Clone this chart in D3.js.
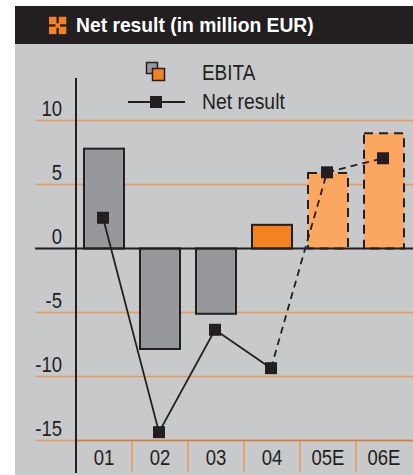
<!DOCTYPE html>
<html>
<head>
<meta charset="utf-8">
<script src="https://cdn.jsdelivr.net/npm/d3@7"></script>
<style>
  html, body { margin: 0; padding: 0; background: #fff; }
  svg { display: block; }
  text { font-family: "Liberation Sans", sans-serif; fill: #231f20; }
</style>
</head>
<body>
<div id="chart-div"></div>
<script>
const categories = ["01", "02", "03", "04", "05E", "06E"];
const ebita = [7.8, -7.85, -5.1, 1.85, 5.9, 9.0];
const netResult = [2.4, -14.35, -6.35, -9.35, 5.95, 7.05];
const barKinds = ["past", "past", "past", "now", "forecast", "forecast"];
const yTicks = [10, 5, 0, -5, -10, -15];

const width = 413;
const height = 475;

const dark = "#231f20";
const panel = "#c8c9cb";
const gridColor = "#ea9a52";
const fills = { past: "#97989b", now: "#f58220", forecast: "#fba75f" };

const yScale = d3.scaleLinear().domain([10, -15]).range([120.5, 440.5]);
const xScale = d3.scaleBand().domain(categories).range([76, 412]);
const barWidth = 40;
const cx = (d) => xScale(d) + xScale.bandwidth() / 2;

// the original type is a condensed face, squeeze the glyphs to get close
function condense(sel, k) {
  sel.each(function () {
    d3.select(this)
      .attr("textLength", this.getComputedTextLength() * k)
      .attr("lengthAdjust", "spacingAndGlyphs");
  });
}

const svg = d3.select("#chart-div")
  .append("svg")
  .attr("width", width)
  .attr("height", height);

// panel and title bar
svg.append("rect").attr("x", 15).attr("y", 44).attr("width", width - 15).attr("height", height - 44).attr("fill", panel);
svg.append("rect").attr("x", 15).attr("y", 6).attr("width", width - 15).attr("height", 38).attr("fill", dark);

// little orange title icon, four squares
const icon = svg.append("g").attr("transform", "translate(49,16.8)");
[[0, 0], [9.8, 0], [0, 9.8], [9.8, 9.8]].forEach((p) => {
  icon.append("rect").attr("x", p[0]).attr("y", p[1]).attr("width", 7.5).attr("height", 7.5).attr("fill", "#f58220");
});
icon.append("rect").attr("x", 6.5).attr("y", 6.5).attr("width", 4.5).attr("height", 4.5).attr("fill", "#f58220");

svg.append("text")
  .attr("x", 76)
  .attr("y", 32)
  .attr("font-size", 20.5)
  .attr("font-weight", "bold")
  .style("fill", "#fff")
  .text("Net result (in million EUR)")
  .call(condense, 0.94);

// horizontal grid
svg.append("g")
  .selectAll("line")
  .data(yTicks.filter((d) => d !== 0))
  .enter()
  .append("line")
  .attr("x1", 36)
  .attr("x2", width)
  .attr("y1", (d) => yScale(d))
  .attr("y2", (d) => yScale(d))
  .attr("stroke", gridColor)
  .attr("stroke-width", 1.5);

// separators under the category axis
svg.append("g")
  .selectAll("line")
  .data(categories.slice(1))
  .enter()
  .append("line")
  .attr("x1", (d) => xScale(d))
  .attr("x2", (d) => xScale(d))
  .attr("y1", yScale(-15))
  .attr("y2", 472)
  .attr("stroke", gridColor)
  .attr("stroke-width", 1.5);

// EBITA bars
svg.append("g")
  .selectAll("rect")
  .data(categories)
  .enter()
  .append("rect")
  .attr("x", (d) => cx(d) - barWidth / 2)
  .attr("y", (d, i) => yScale(Math.max(ebita[i], 0)))
  .attr("width", barWidth)
  .attr("height", (d, i) => Math.abs(yScale(ebita[i]) - yScale(0)))
  .attr("fill", (d, i) => fills[barKinds[i]])
  .attr("stroke", dark)
  .attr("stroke-width", 2)
  .attr("stroke-dasharray", (d, i) => barKinds[i] === "forecast" ? "9,6" : null);

// axes
const yAxis = d3.axisLeft(yScale).tickValues(yTicks).tickSize(0).tickPadding(0).tickFormat((d) => String(d));
const yG = svg.append("g").attr("transform", "translate(62,0)").call(yAxis);
yG.select(".domain").remove();
yG.selectAll("text")
  .attr("font-size", 21.5)
  .attr("font-family", null)
  .attr("dy", null)
  .attr("y", -5.5)
  .call(condense, 0.86);

const xAxis = d3.axisBottom(xScale).tickSize(0).tickPadding(0);
const xG = svg.append("g").attr("transform", `translate(0,${yScale(-15)})`).call(xAxis);
xG.select(".domain").remove();
xG.selectAll("text")
  .attr("font-size", 21.5)
  .attr("font-family", null)
  .attr("dy", null)
  .attr("y", 24)
  .call(condense, 0.86);

svg.append("line")
  .attr("x1", 76).attr("x2", width)
  .attr("y1", yScale(-15)).attr("y2", yScale(-15))
  .attr("stroke", "#cc7f3e").attr("stroke-width", 1.5);

svg.append("line")
  .attr("x1", 35).attr("x2", width)
  .attr("y1", yScale(0)).attr("y2", yScale(0))
  .attr("stroke", dark).attr("stroke-width", 2);
svg.append("line")
  .attr("x1", 76).attr("x2", 76)
  .attr("y1", 78).attr("y2", 473)
  .attr("stroke", dark).attr("stroke-width", 2);

// net result line, dashed once it turns into an estimate
const line = d3.line()
  .x((d) => cx(d.cat) - 1)
  .y((d) => yScale(d.val));
const points = categories.map((c, i) => ({ cat: c, val: netResult[i] }));

svg.append("path")
  .attr("d", line(points.slice(0, 4)))
  .attr("fill", "none")
  .attr("stroke", dark)
  .attr("stroke-width", 1.8);
svg.append("path")
  .attr("d", line(points.slice(3)))
  .attr("fill", "none")
  .attr("stroke", dark)
  .attr("stroke-width", 1.8)
  .attr("stroke-dasharray", "7,5");

svg.append("g")
  .selectAll("rect")
  .data(points)
  .enter()
  .append("rect")
  .attr("x", (d) => cx(d.cat) - 7)
  .attr("y", (d) => yScale(d.val) - 6)
  .attr("width", 12)
  .attr("height", 12)
  .attr("fill", dark);

// legend
const legend = svg.append("g");
legend.append("rect").attr("x", 146.5).attr("y", 62.5).attr("width", 11).attr("height", 11)
  .attr("fill", fills.past).attr("stroke", dark).attr("stroke-width", 1.5);
legend.append("rect").attr("x", 152.5).attr("y", 68.5).attr("width", 12).attr("height", 12)
  .attr("fill", fills.now).attr("stroke", dark).attr("stroke-width", 1.5);
legend.append("line").attr("x1", 128).attr("x2", 185).attr("y1", 102).attr("y2", 102)
  .attr("stroke", dark).attr("stroke-width", 1.8);
legend.append("rect").attr("x", 150).attr("y", 96).attr("width", 12).attr("height", 12).attr("fill", dark);
legend.append("text").attr("x", 202).attr("y", 80).attr("font-size", 21.5).text("EBITA").call(condense, 0.88);
legend.append("text").attr("x", 202).attr("y", 109).attr("font-size", 21.5).text("Net result").call(condense, 0.9);
</script>
</body>
</html>
